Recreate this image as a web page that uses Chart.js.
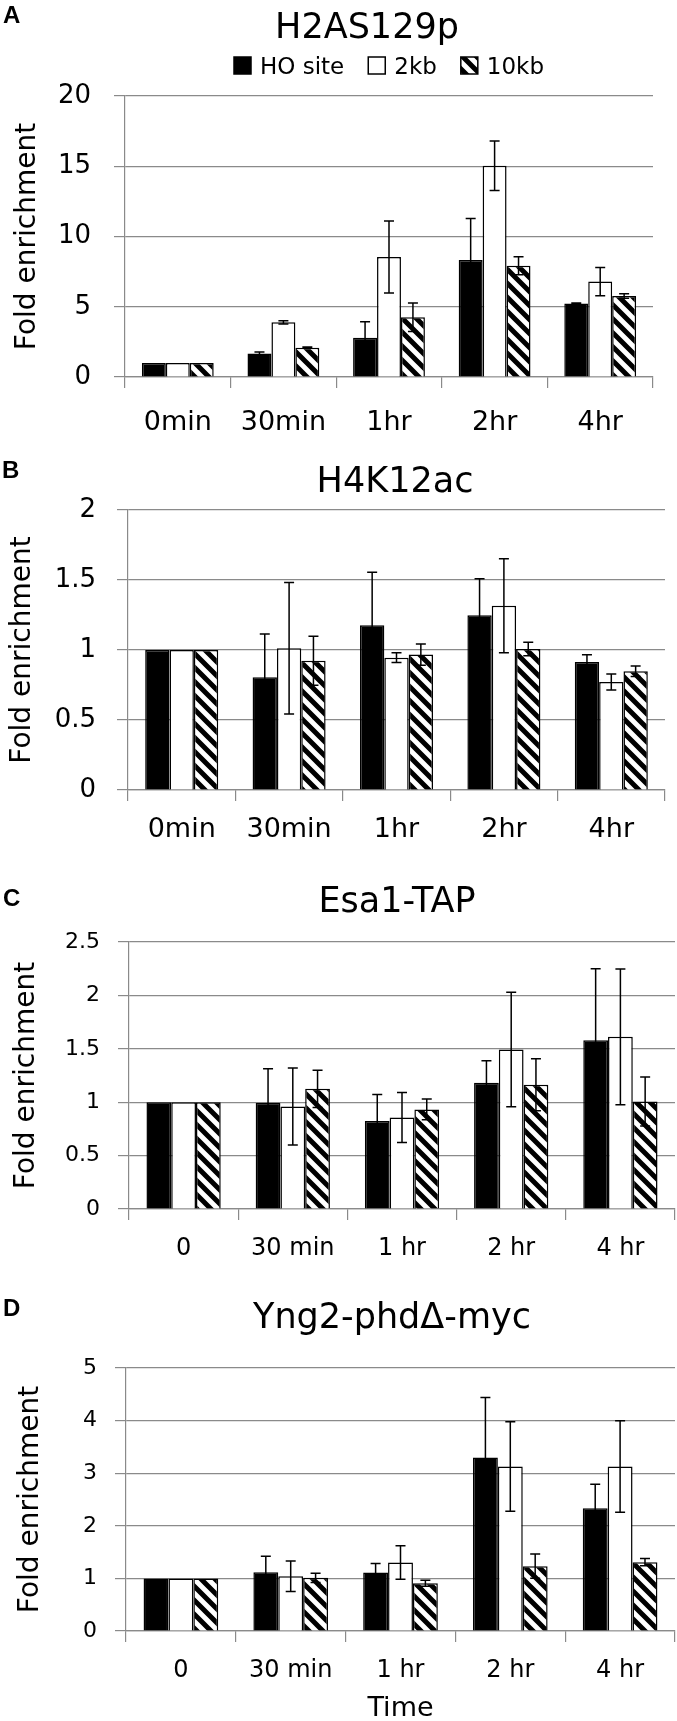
<!DOCTYPE html>
<html>
<head>
<meta charset="utf-8">
<script src="https://cdn.jsdelivr.net/npm/chart.js@4.4.0/dist/chart.umd.min.js"></script>
<style>
  html, body { margin: 0; padding: 0; background: #fff; overflow: hidden; }
  #page { position: relative; width: 677px; height: 1721px; }
  .panel { position: absolute; left: 0; width: 677px; }
</style>
</head>
<body>
<div id="page">
  <div class="panel" style="top:0px"><canvas id="chartA" width="677" height="445"></canvas></div>
  <div class="panel" style="top:445px"><canvas id="chartB" width="677" height="413"></canvas></div>
  <div class="panel" style="top:858px"><canvas id="chartC" width="677" height="422"></canvas></div>
  <div class="panel" style="top:1280px"><canvas id="chartD" width="677" height="445"></canvas></div>
</div>
<script>
// categories
const timesAB = ['0min', '30min', '1hr', '2hr', '4hr'];
const timesCD = ['0', '30 min', '1 hr', '2 hr', '4 hr'];
const seriesNames = ['HO site', '2kb', '10kb'];

// A - H2AS129p
const hoA = [1, 1.68, 2.8, 8.33, 5.24];
const hoErrA = [0, 0.1, 1.14, 2.96, 0.03];
const kb2A = [1, 3.89, 8.54, 15.04, 6.79];
const kb2ErrA = [0, 0.12, 2.56, 1.76, 1.0];
const kb10A = [1, 2.09, 4.25, 7.92, 5.77];
const kb10ErrA = [0, 0.05, 1.02, 0.64, 0.16];

// B - H4K12ac
const hoB = [1, 0.805, 1.176, 1.249, 0.914];
const hoErrB = [0, 0.31, 0.38, 0.26, 0.052];
const kb2B = [1, 1.012, 0.945, 1.316, 0.772];
const kb2ErrB = [0, 0.47, 0.035, 0.335, 0.057];
const kb10B = [1, 0.923, 0.967, 1.007, 0.848];
const kb10ErrB = [0, 0.175, 0.076, 0.048, 0.038];

// C - Esa1-TAP
const hoC = [1, 0.994, 0.823, 1.181, 1.58];
const hoErrC = [0, 0.32, 0.25, 0.206, 0.67];
const kb2C = [1, 0.96, 0.857, 1.493, 1.612];
const kb2ErrC = [0, 0.36, 0.234, 0.536, 0.635];
const kb10C = [1, 1.125, 0.932, 1.163, 1.006];
const kb10ErrC = [0, 0.175, 0.097, 0.243, 0.23];

// D - Yng2-phdΔ-myc
const hoD = [1, 1.118, 1.112, 3.297, 2.332];
const hoErrD = [0, 0.305, 0.17, 1.14, 0.457];
const kb2D = [1, 1.042, 1.302, 3.126, 3.126];
const kb2ErrD = [0, 0.29, 0.318, 0.85, 0.87];
const kb10D = [1, 1.01, 0.908, 1.232, 1.309];
const kb10ErrD = [0, 0.09, 0.058, 0.23, 0.07];

const GRID = '#8a8a8a';
Chart.defaults.font.family = "'DejaVu Sans', sans-serif";
Chart.defaults.color = '#000';

// diagonal stripes for the 10kb bars
function makeHatch() {
    const s = 14;
    const c = document.createElement('canvas');
    c.width = s; c.height = s;
    const g = c.getContext('2d');
    g.fillStyle = '#fff';
    g.fillRect(0, 0, s, s);
    g.strokeStyle = '#000';
    g.lineWidth = 5;
    g.beginPath();
    for (let k = -1; k <= 1; k++) {
        g.moveTo(k * s - 3, -3);
        g.lineTo(k * s + s + 3, s + 3);
    }
    g.stroke();
    return g.createPattern(c, 'repeat');
}
const hatch = makeHatch();
const fills = ['#000', '#fff', hatch];

// error bars drawn from the dataset values through the y scale
const errorBars = {
    id: 'errorBars',
    afterDatasetsDraw(chart) {
        const ctx = chart.ctx;
        const y = chart.scales.y;
        ctx.save();
        ctx.strokeStyle = '#000';
        ctx.lineWidth = 1.5;
        chart.data.datasets.forEach((ds, i) => {
            const meta = chart.getDatasetMeta(i);
            meta.data.forEach((bar, j) => {
                const e = ds.errors[j];
                if (!e) return;
                const top = y.getPixelForValue(ds.data[j] + e);
                const bot = y.getPixelForValue(ds.data[j] - e);
                ctx.beginPath();
                ctx.moveTo(bar.x, top); ctx.lineTo(bar.x, bot);
                ctx.moveTo(bar.x - 5, top); ctx.lineTo(bar.x + 5, top);
                ctx.moveTo(bar.x - 5, bot); ctx.lineTo(bar.x + 5, bot);
                ctx.stroke();
            });
        });
        ctx.restore();
    }
};

// panel letter, panel title and (panel A only) the legend
const panelDecor = {
    id: 'panelDecor',
    afterDraw(chart, args, opts) {
        const ctx = chart.ctx;
        ctx.save();
        ctx.fillStyle = '#000';
        ctx.textBaseline = 'alphabetic';
        ctx.font = "bold 24px 'Liberation Sans'";
        ctx.textAlign = 'left';
        ctx.fillText(opts.letter, opts.letterX, opts.letterY);
        ctx.font = "35px 'DejaVu Sans'";
        ctx.textAlign = 'center';
        ctx.fillText(opts.title, opts.titleX, opts.titleY);

        if (opts.legend) {
            ctx.font = "23px 'DejaVu Sans'";
            ctx.textAlign = 'left';
            const box = 17, gap = 9, space = 24;
            const items = chart.data.datasets;
            let total = 0;
            items.forEach((ds, i) => {
                total += box + gap + ctx.measureText(ds.label).width + (i < items.length - 1 ? space : 0);
            });
            const area = chart.chartArea;
            let x = (area.left + area.right) / 2 - total / 2;
            items.forEach(ds => {
                ctx.fillStyle = ds.backgroundColor;
                ctx.fillRect(x, opts.legendY - box, box, box);
                ctx.strokeStyle = '#000';
                ctx.lineWidth = 1.5;
                ctx.strokeRect(x, opts.legendY - box, box, box);
                ctx.fillStyle = '#000';
                ctx.fillText(ds.label, x + box + gap, opts.legendY);
                x += box + gap + ctx.measureText(ds.label).width + space;
            });
        }
        ctx.restore();
    }
};

function buildPanel(id, p) {
    const canvas = document.getElementById(id);
    const datasets = p.series.map((vals, i) => ({
        label: seriesNames[i],
        data: vals,
        errors: p.errors[i],
        backgroundColor: fills[i],
        borderColor: '#000',
        borderWidth: 1.5,
        categoryPercentage: 0.68,
        barPercentage: 1.0
    }));
    return new Chart(canvas.getContext('2d'), {
        type: 'bar',
        data: { labels: p.labels, datasets },
        plugins: [errorBars, panelDecor],
        options: {
            responsive: false,
            animation: false,
            layout: { padding: { top: p.top, left: 0, right: 677 - p.right, bottom: 0 } },
            plugins: {
                legend: { display: false },
                title: { display: false },
                tooltip: { enabled: false },
                panelDecor: p.decor
            },
            scales: {
                x: {
                    offset: true,
                    ticks: { font: { size: p.xFont }, color: '#000', padding: p.xPad },
                    grid: { offset: true, drawOnChartArea: false, tickLength: 11, color: GRID, lineWidth: 1.2 },
                    border: { color: GRID, width: 1.2 },
                    title: {
                        display: !!p.xTitle, text: p.xTitle || '', color: '#000',
                        font: { size: 27 }, padding: { top: 0, bottom: 0 }
                    },
                    afterFit: s => { s.height = p.xHeight; }
                },
                y: {
                    min: 0, max: p.yMax,
                    ticks: {
                        stepSize: p.step, font: { size: p.yFont }, color: '#000', padding: p.yPad,
                        callback: v => +v.toFixed(2)
                    },
                    grid: { color: GRID, lineWidth: 1.2, tickLength: 11 },
                    border: { color: GRID, width: 1.2 },
                    title: {
                        display: true, text: 'Fold enrichment', color: '#000',
                        font: { size: 28 }, padding: { top: p.yTitlePad, bottom: 0 }
                    },
                    afterFit: s => { s.width = p.left; }
                }
            }
        }
    });
}

buildPanel('chartA', {
    labels: timesAB, series: [hoA, kb2A, kb10A], errors: [hoErrA, kb2ErrA, kb10ErrA],
    top: 96, left: 125, right: 653, xHeight: 68, yMax: 20, step: 5,
    yFont: 26, yPad: 23, yTitlePad: 11, xFont: 27, xPad: 19,
    decor: { letter: 'A', letterX: 3, letterY: 23, title: 'H2AS129p', titleX: 367, titleY: 38, legend: true, legendY: 74 }
});
buildPanel('chartB', {
    labels: timesAB, series: [hoB, kb2B, kb10B], errors: [hoErrB, kb2ErrB, kb10ErrB],
    top: 65, left: 128, right: 665, xHeight: 68, yMax: 2, step: 0.5,
    yFont: 26, yPad: 21, yTitlePad: 6, xFont: 27, xPad: 13,
    decor: { letter: 'B', letterX: 2, letterY: 33, title: 'H4K12ac', titleX: 395, titleY: 47 }
});
buildPanel('chartC', {
    labels: timesCD, series: [hoC, kb2C, kb10C], errors: [hoErrC, kb2ErrC, kb10ErrC],
    top: 84, left: 129, right: 675, xHeight: 71, yMax: 2.5, step: 0.5,
    yFont: 22, yPad: 18, yTitlePad: 10, xFont: 24, xPad: 14,
    decor: { letter: 'C', letterX: 3, letterY: 48, title: 'Esa1-TAP', titleX: 397, titleY: 54 }
});
buildPanel('chartD', {
    labels: timesCD, series: [hoD, kb2D, kb10D], errors: [hoErrD, kb2ErrD, kb10ErrD],
    top: 88, left: 126, right: 675, xHeight: 94, yMax: 5, step: 1,
    yFont: 22, yPad: 18, yTitlePad: 14, xFont: 24, xPad: 14, xTitle: 'Time',
    decor: { letter: 'D', letterX: 3, letterY: 36, title: 'Yng2-phd\u0394-myc', titleX: 392, titleY: 48 }
});
</script>
</body>
</html>
